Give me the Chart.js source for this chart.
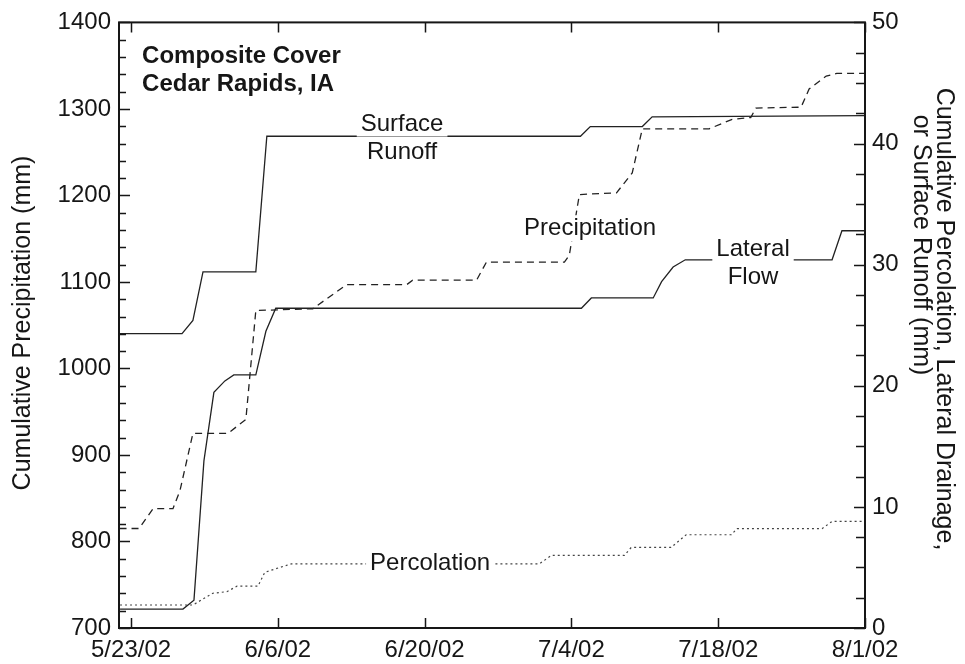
<!DOCTYPE html>
<html>
<head>
<meta charset="utf-8">
<script src="https://cdn.jsdelivr.net/npm/chart.js@4.4.0/dist/chart.umd.min.js"></script>
<style>
  html, body { margin: 0; padding: 0; background: #fff; }
</style>
</head>
<body>
<canvas id="chartBoxCanvas" width="965" height="664"></canvas>
<script>
'use strict';

// x values are days counted from 5/23/02
const xTickDays = [0, 14, 28, 42, 56, 70];
const xTickLabels = ['5/23/02', '6/6/02', '6/20/02', '7/4/02', '7/18/02', '8/1/02'];

// Cumulative precipitation (mm, left axis)
const precipDays = [-1.1, 0.76, 2.1, 4.0, 4.67, 5.9, 9.24, 10.95, 11.9, 17.33, 20.57, 26.3, 26.86, 32.95, 33.9, 41.33, 41.8, 42.76, 46.3, 47.8, 48.76, 55.14, 57.33, 59.1, 59.6, 63.9, 64.67, 66.3, 67.3, 70];
const precipValues = [815, 815, 838, 838, 859, 925, 925, 941, 1067, 1069, 1097, 1097, 1102, 1102, 1123, 1123, 1131, 1201, 1203, 1226, 1277, 1277, 1288, 1290, 1301, 1302, 1323, 1338, 1341, 1341];

// Surface runoff (mm, right axis)
const runoffDays = [-1.15, 4.86, 5.9, 6.86, 11.9, 12.95, 42.86, 43.8, 48.76, 49.7, 70];
const runoffValues = [24.3, 24.3, 25.4, 29.4, 29.4, 40.6, 40.6, 41.4, 41.4, 42.2, 42.3];

// Lateral flow (mm, right axis)
const lateralDays = [-1.05, 4.95, 6.0, 6.95, 7.9, 8.95, 9.8, 11.9, 12.86, 13.8, 42.95, 43.9, 49.8, 50.6, 51.7, 52.86, 66.86, 67.8, 70];
const lateralValues = [1.56, 1.56, 2.3, 13.8, 19.46, 20.4, 20.9, 20.9, 24.5, 26.4, 26.4, 27.25, 27.25, 28.6, 29.8, 30.4, 30.4, 32.8, 32.8];

// Percolation (mm, right axis)
const percDays = [-1.05, 5.9, 7.8, 9.14, 10.1, 12.1, 12.76, 14.2, 15.3, 38.95, 40.1, 47.05, 47.7, 51.5, 52.95, 57.24, 57.8, 65.9, 66.86, 70];
const percValues = [1.9, 1.9, 2.87, 3.0, 3.45, 3.45, 4.6, 5.0, 5.3, 5.3, 6.0, 6.0, 6.65, 6.65, 7.7, 7.7, 8.2, 8.2, 8.8, 8.8];

// Text written inside the plot (x in days, y on the precipitation axis)
const notes = [
    { lines: ['Composite Cover', 'Cedar Rapids, IA'], x: 1.05, y: 1353, bold: true, align: 'left' },
    { lines: ['Surface', 'Runoff'], x: 25.85, y: 1275 },
    { lines: ['Precipitation'], x: 43.78, y: 1154 },
    { lines: ['Lateral', 'Flow'], x: 59.32, y: 1130 },
    { lines: ['Percolation'], x: 28.52, y: 767 }
];

const FONT = "'Liberation Sans', Arial, Helvetica, sans-serif";
const INK = '#161616';

function toPoints(days, values) {
    const pts = [];
    for (let i = 0; i < days.length; i++) {
        pts.push({ x: days[i], y: values[i] });
    }
    return pts;
}

// frame, inner ticks, notes and axis titles
const framePlugin = {
    id: 'framePlugin',
    afterDraw(chart) {
        const ctx = chart.ctx;
        const a = chart.chartArea;
        const sx = chart.scales.x;
        const sl = chart.scales.yPrecip;
        const sr = chart.scales.yRight;
        ctx.save();

        // notes with white backing so lines break around them
        notes.forEach(n => {
            ctx.font = (n.bold ? 'bold ' : '') + '24px ' + FONT;
            ctx.textBaseline = 'alphabetic';
            const px = sx.getPixelForValue(n.x);
            let py = sl.getPixelForValue(n.y);
            n.lines.forEach(line => {
                const w = ctx.measureText(line).width;
                const left = n.align === 'left' ? px : px - w / 2;
                ctx.fillStyle = '#fff';
                ctx.fillRect(left - 4, py - 20, w + 8, 26);
                ctx.fillStyle = INK;
                ctx.textAlign = 'left';
                ctx.fillText(line, left, py);
                py += 28;
            });
        });

        ctx.strokeStyle = INK;
        ctx.lineWidth = 2;
        ctx.strokeRect(a.left, a.top, a.right - a.left, a.bottom - a.top);

        ctx.lineWidth = 1.5;
        ctx.beginPath();
        for (let v = 700; v <= 1400; v += 20) {
            const y = Math.round(sl.getPixelForValue(v)) + 0.5;
            const len = v % 100 === 0 ? 11 : 7;
            ctx.moveTo(a.left, y);
            ctx.lineTo(a.left + len, y);
        }
        for (let v = 0; v <= 50; v += 2.5) {
            const y = Math.round(sr.getPixelForValue(v)) + 0.5;
            const len = v % 10 === 0 ? 11 : 9;
            ctx.moveTo(a.right, y);
            ctx.lineTo(a.right - len, y);
        }
        xTickDays.forEach(d => {
            const x = Math.round(sx.getPixelForValue(d)) + 0.5;
            ctx.moveTo(x, a.bottom);
            ctx.lineTo(x, a.bottom - 10);
            ctx.moveTo(x, a.top);
            ctx.lineTo(x, a.top + 10);
        });
        ctx.stroke();

        // axis titles
        ctx.fillStyle = INK;
        ctx.font = '25px ' + FONT;
        ctx.textAlign = 'center';
        ctx.textBaseline = 'middle';

        ctx.save();
        ctx.translate(23, 323);
        ctx.rotate(-Math.PI / 2);
        ctx.fillText('Cumulative Precipitation (mm)', 0, 0);
        ctx.restore();

        ctx.save();
        ctx.translate(944, 319);
        ctx.rotate(Math.PI / 2);
        ctx.fillText('Cumulative Percolation, Lateral Drainage,', 0, 0);
        ctx.restore();

        ctx.save();
        ctx.translate(921, 245);
        ctx.rotate(Math.PI / 2);
        ctx.fillText('or Surface Runoff (mm)', 0, 0);
        ctx.restore();

        ctx.restore();
    }
};

const lineBase = {
    borderColor: '#222',
    borderWidth: 1.3,
    pointRadius: 0,
    tension: 0,
    fill: false
};

const ctx = document.getElementById('chartBoxCanvas').getContext('2d');
window.myChart = new Chart(ctx, {
    type: 'line',
    data: {
        datasets: [
            Object.assign({}, lineBase, { label: 'Precipitation', data: toPoints(precipDays, precipValues), yAxisID: 'yPrecip', borderDash: [7, 5] }),
            Object.assign({}, lineBase, { label: 'Surface Runoff', data: toPoints(runoffDays, runoffValues), yAxisID: 'yRight' }),
            Object.assign({}, lineBase, { label: 'Lateral Flow', data: toPoints(lateralDays, lateralValues), yAxisID: 'yRight' }),
            Object.assign({}, lineBase, { label: 'Percolation', data: toPoints(percDays, percValues), yAxisID: 'yRight', borderDash: [2, 3], borderWidth: 1.2, borderColor: '#444' })
        ]
    },
    options: {
        responsive: false,
        animation: false,
        devicePixelRatio: 1,
        layout: { padding: { top: 19, left: 0, right: 0, bottom: 0 } },
        plugins: {
            legend: { display: false },
            tooltip: { enabled: false }
        },
        scales: {
            x: {
                type: 'linear',
                min: -1.15,
                max: 70,
                grid: { display: false, drawTicks: false },
                border: { display: false },
                afterBuildTicks: (scale) => {
                    scale.ticks = xTickDays.map(d => ({ value: d }));
                },
                afterFit: (scale) => { scale.height = 36; },
                ticks: {
                    padding: 8,
                    maxRotation: 0,
                    autoSkip: false,
                    color: INK,
                    font: { family: FONT, size: 24 },
                    callback: (value) => {
                        const i = xTickDays.indexOf(value);
                        return i >= 0 ? xTickLabels[i] : '';
                    }
                }
            },
            yPrecip: {
                position: 'left',
                min: 700,
                max: 1400,
                grid: { display: false, drawTicks: false },
                border: { display: false },
                afterFit: (scale) => { scale.width = 119; },
                ticks: {
                    stepSize: 100,
                    padding: 8,
                    color: INK,
                    font: { family: FONT, size: 24 },
                    callback: (value) => String(value)
                }
            },
            yRight: {
                position: 'right',
                min: 0,
                max: 50,
                grid: { display: false, drawTicks: false },
                border: { display: false },
                afterFit: (scale) => { scale.width = 100; },
                ticks: {
                    stepSize: 10,
                    padding: 7,
                    color: INK,
                    font: { family: FONT, size: 24 },
                    callback: (value) => String(value)
                }
            }
        }
    },
    plugins: [framePlugin]
});
</script>
</body>
</html>
